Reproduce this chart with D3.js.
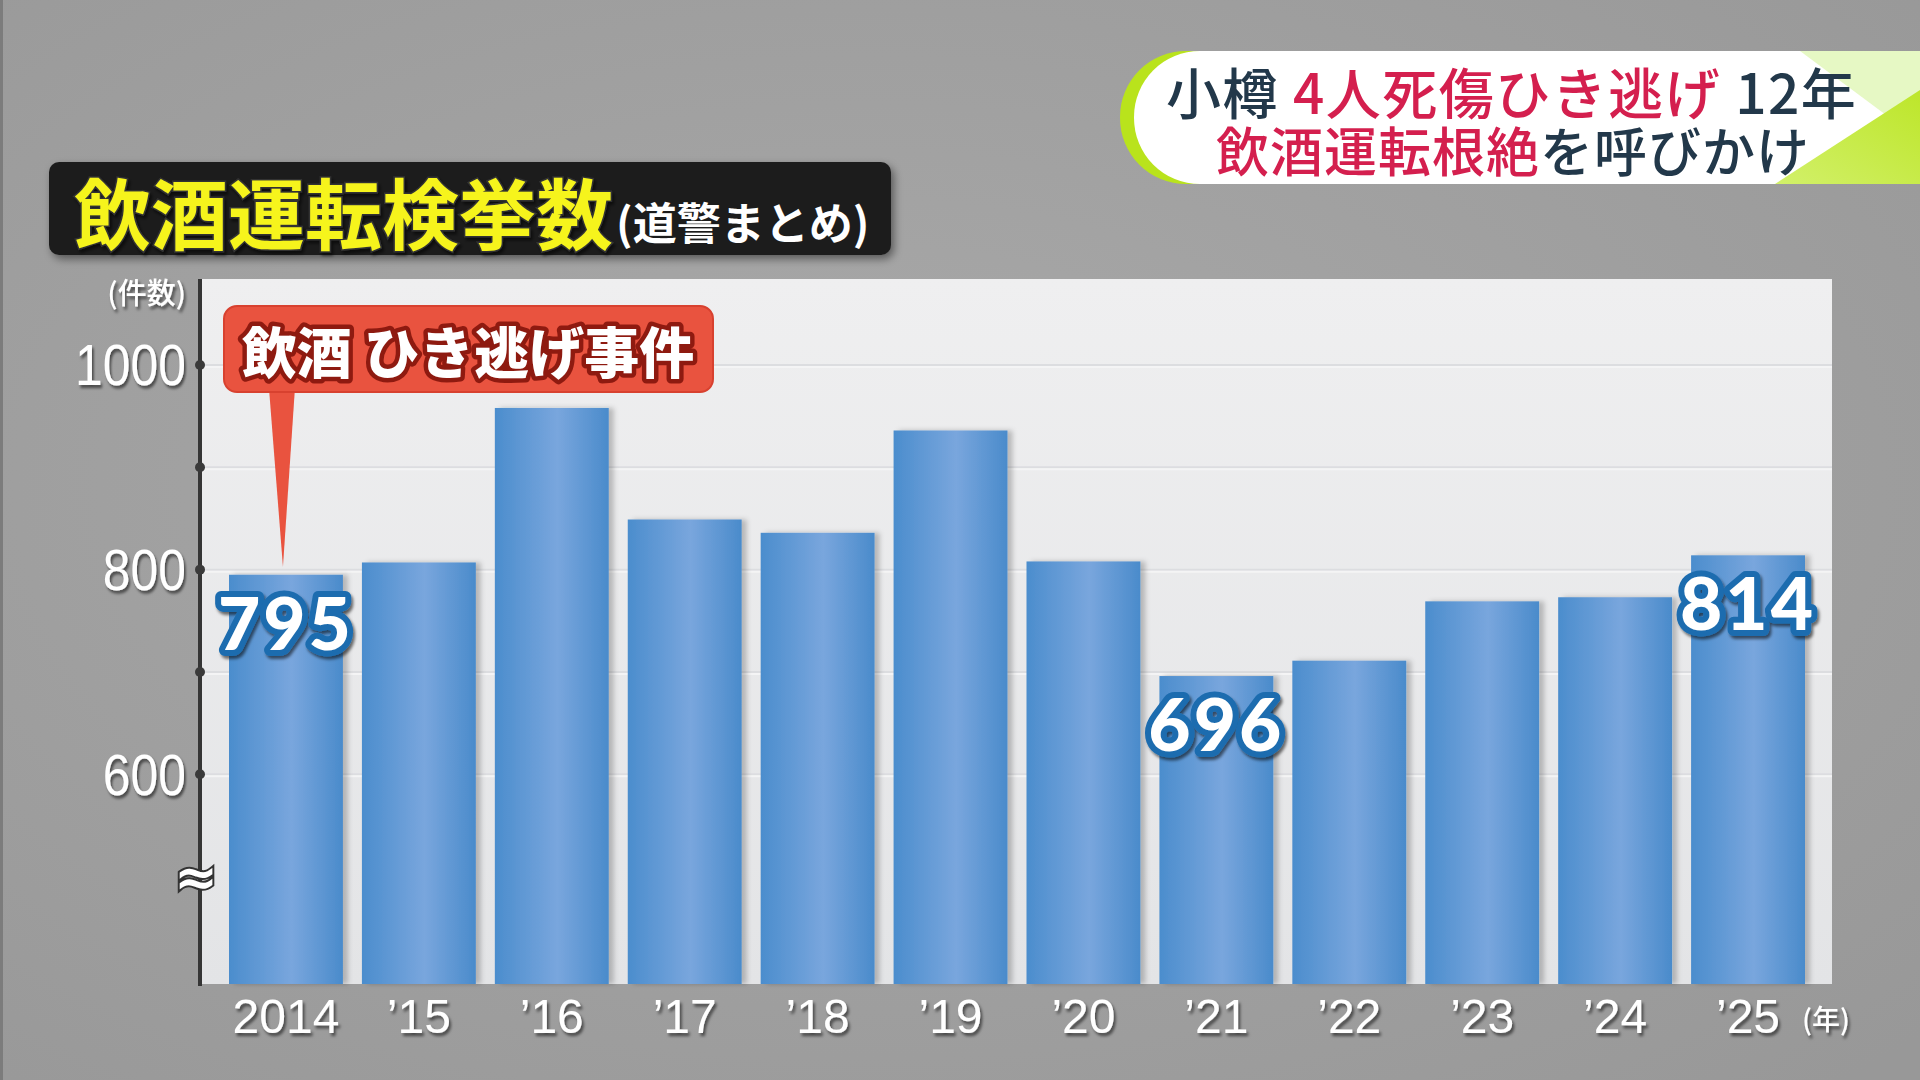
<!DOCTYPE html>
<html lang="ja">
<head>
<meta charset="utf-8">
<title>飲酒運転検挙数</title>
<script src="https://cdn.jsdelivr.net/npm/d3@7"></script>
<style>
  html, body { margin: 0; padding: 0; background: #a0a0a0; overflow: hidden; }
  svg { display: block; }
</style>
</head>
<body>
<div id="chart"></div>
<script>
// chart values
const years = ["2014", "\u201915", "\u201916", "\u201917", "\u201918", "\u201919",
               "\u201920", "\u201921", "\u201922", "\u201923", "\u201924", "\u201925"];
const counts = [795, 807, 958, 849, 836, 936, 808, 696, 711, 769, 773, 814];
const labelledYears = ["2014", "\u201921", "\u201925"];
const yTickValues = [600, 800, 1000];
const yDotValues = [600, 700, 800, 900, 1000];
const breakValue = 500;
const calloutYear = "2014";
const calloutText = "飲酒 ひき逃げ事件";
const titleText = "飲酒運転検挙数";
const subtitleText = "(道警まとめ)";
const yUnit = "(件数)";
const xUnit = "(年)";

const W = 1920, H = 1080;
const plot = { left: 200, right: 1832, top: 279, bottom: 984 };

const svg = d3.select("#chart").append("svg")
    .attr("width", W)
    .attr("height", H);
const defs = svg.append("defs");

// gradients
const bgGrad = defs.append("radialGradient").attr("id", "bgGrad")
    .attr("cx", "45%").attr("cy", "45%").attr("r", "75%");
bgGrad.append("stop").attr("offset", "0%").attr("stop-color", "#a9a9a9");
bgGrad.append("stop").attr("offset", "100%").attr("stop-color", "#989898");

const plotGrad = defs.append("linearGradient").attr("id", "plotGrad")
    .attr("x1", "0%").attr("y1", "0%").attr("x2", "0%").attr("y2", "100%");
plotGrad.append("stop").attr("offset", "0%").attr("stop-color", "#efeff0");
plotGrad.append("stop").attr("offset", "100%").attr("stop-color", "#e3e4e6");

const barGrad = defs.append("linearGradient").attr("id", "barGrad")
    .attr("x1", "0%").attr("y1", "0%").attr("x2", "100%").attr("y2", "0%");
barGrad.append("stop").attr("offset", "0%").attr("stop-color", "#4b8dcd");
barGrad.append("stop").attr("offset", "55%").attr("stop-color", "#79a6dd");
barGrad.append("stop").attr("offset", "100%").attr("stop-color", "#4a8bcb");

const limeGrad = defs.append("linearGradient").attr("id", "limeGrad")
    .attr("x1", "0%").attr("y1", "100%").attr("x2", "100%").attr("y2", "0%");
limeGrad.append("stop").attr("offset", "0%").attr("stop-color", "#d2f06a");
limeGrad.append("stop").attr("offset", "100%").attr("stop-color", "#bde62a");

// shadows
function addShadow(id, dx, dy, blur, opacity) {
    defs.append("filter").attr("id", id)
        .attr("x", "-20%").attr("y", "-20%").attr("width", "140%").attr("height", "140%")
        .append("feDropShadow")
        .attr("dx", dx).attr("dy", dy)
        .attr("stdDeviation", blur)
        .attr("flood-color", "#000")
        .attr("flood-opacity", opacity);
}
addShadow("textShadow", 2, 3, 1.5, 0.55);
addShadow("boxShadow", 3, 4, 4, 0.45);
addShadow("barShadow", 5, 0, 2.5, 0.22);

// background
svg.append("rect").attr("width", W).attr("height", H).attr("fill", "url(#bgGrad)");
svg.append("rect").attr("width", 3).attr("height", H).attr("fill", "#7c7c7c");

// scales
const x = d3.scaleBand()
    .domain(years)
    .range([219.5, 1814.5])
    .paddingInner(0.143)
    .paddingOuter(0.0715);

const y = d3.scaleLinear()
    .domain([395, 1000])
    .range([plot.bottom, 365]);

// plot area
svg.append("rect")
    .attr("x", plot.left + 2)
    .attr("y", plot.top)
    .attr("width", plot.right - plot.left - 2)
    .attr("height", plot.bottom - plot.top)
    .attr("fill", "url(#plotGrad)");

// faint grid lines
const grid = svg.append("g");
grid.selectAll("line.dark")
    .data(yDotValues)
    .join("line")
    .attr("x1", plot.left + 2).attr("x2", plot.right)
    .attr("y1", d => y(d)).attr("y2", d => y(d))
    .attr("stroke", "#dcdde0").attr("stroke-width", 2);
grid.selectAll("line.light")
    .data(yDotValues)
    .join("line")
    .attr("x1", plot.left + 2).attr("x2", plot.right)
    .attr("y1", d => y(d) + 2).attr("y2", d => y(d) + 2)
    .attr("stroke", "#f4f4f5").attr("stroke-width", 2);

// bars
svg.append("g")
    .selectAll("rect")
    .data(counts)
    .join("rect")
    .attr("x", (d, i) => x(years[i]))
    .attr("y", d => y(d))
    .attr("width", x.bandwidth())
    .attr("height", d => y(395) - y(d))
    .attr("fill", "url(#barGrad)")
    .attr("filter", "url(#barShadow)");

// axes
svg.append("line")
    .attr("x1", plot.left).attr("x2", plot.left)
    .attr("y1", plot.top).attr("y2", plot.bottom + 2)
    .attr("stroke", "#353535").attr("stroke-width", 4);

svg.append("line")
    .attr("x1", plot.left - 2).attr("x2", plot.right)
    .attr("y1", plot.bottom + 1).attr("y2", plot.bottom + 1)
    .attr("stroke", "#333").attr("stroke-width", 6)
    .attr("filter", "url(#textShadow)");

svg.append("g")
    .selectAll("circle")
    .data(yDotValues)
    .join("circle")
    .attr("cx", plot.left)
    .attr("cy", d => y(d))
    .attr("r", 5)
    .attr("fill", "#3a3a3a");

// y labels (condensed a little, like the broadcast font)
svg.append("g")
    .selectAll("text")
    .data(yTickValues)
    .join("text")
    .attr("transform", d => `translate(186,${y(d)}) scale(0.86,1)`)
    .attr("text-anchor", "end")
    .attr("dominant-baseline", "central")
    .attr("font-family", "'Liberation Sans', sans-serif")
    .attr("font-size", 58)
    .attr("fill", "#fff")
    .attr("filter", "url(#textShadow)")
    .text(d => d);

svg.append("text")
    .attr("x", 186).attr("y", 291)
    .attr("text-anchor", "end")
    .attr("dominant-baseline", "central")
    .attr("font-family", "'Noto Sans CJK JP', sans-serif")
    .attr("font-weight", 500)
    .attr("font-size", 29)
    .attr("fill", "#fff")
    .attr("filter", "url(#textShadow)")
    .text(yUnit);

// axis break mark
svg.append("text")
    .attr("x", plot.left - 4).attr("y", y(breakValue))
    .attr("text-anchor", "middle")
    .attr("dominant-baseline", "central")
    .attr("font-family", "'DejaVu Sans', sans-serif")
    .attr("font-weight", 700)
    .attr("font-size", 52)
    .attr("fill", "#fff")
    .attr("stroke", "#333").attr("stroke-width", 4)
    .attr("paint-order", "stroke")
    .text("\u2248");

// x labels
svg.append("g")
    .selectAll("text")
    .data(years)
    .join("text")
    .attr("x", d => x(d) + x.bandwidth() / 2)
    .attr("y", 1016)
    .attr("text-anchor", "middle")
    .attr("dominant-baseline", "central")
    .attr("font-family", "'Liberation Sans', sans-serif")
    .attr("font-size", 48)
    .attr("fill", "#fff")
    .attr("filter", "url(#textShadow)")
    .text(d => d);

svg.append("text")
    .attr("x", 1802).attr("y", 1018)
    .attr("dominant-baseline", "central")
    .attr("font-family", "'Noto Sans CJK JP', sans-serif")
    .attr("font-weight", 500)
    .attr("font-size", 28)
    .attr("fill", "#fff")
    .attr("filter", "url(#textShadow)")
    .text(xUnit);

// value labels: pale halo, blue outline, white fill
const valueLabels = svg.append("g")
    .selectAll("text")
    .data(labelledYears)
    .join("text")
    .attr("x", d => x(d) + x.bandwidth() / 2)
    .attr("y", d => y(counts[years.indexOf(d)]) + 75)
    .attr("text-anchor", "middle")
    .attr("font-family", "Lato, 'Open Sans', sans-serif")
    .attr("font-weight", 900)
    .attr("font-size", 73)
    .attr("letter-spacing", 3)
    .attr("fill", "#fff")
    .attr("stroke", "#1c6caf").attr("stroke-width", 12)
    .attr("stroke-linejoin", "round")
    .attr("paint-order", "stroke")
    .attr("filter", "url(#textShadow)")
    .text(d => counts[years.indexOf(d)]);

// callout
const tipX = x(calloutYear) + x.bandwidth() / 2 - 3;
const tipY = y(counts[years.indexOf(calloutYear)]) - 8;
const callout = svg.append("g");
callout.append("path")
    .attr("d", `M${tipX - 14},388 L${tipX},${tipY} L${tipX + 12},388 Z`)
    .attr("fill", "#e9533f");
callout.append("rect")
    .attr("x", 224).attr("y", 306)
    .attr("width", 489).attr("height", 86)
    .attr("rx", 13)
    .attr("fill", "#e9533f")
    .attr("stroke", "#d8412f").attr("stroke-width", 2);
callout.append("text")
    .attr("x", 468).attr("y", 349)
    .attr("text-anchor", "middle")
    .attr("dominant-baseline", "central")
    .attr("font-family", "'Noto Sans CJK JP', sans-serif")
    .attr("font-weight", 900)
    .attr("font-size", 55)
    .attr("fill", "#fff")
    .attr("stroke", "#8e1a10").attr("stroke-width", 9)
    .attr("stroke-linejoin", "round")
    .attr("paint-order", "stroke")
    .text(calloutText);

// title box
svg.append("rect")
    .attr("x", 49).attr("y", 162)
    .attr("width", 842).attr("height", 93)
    .attr("rx", 10)
    .attr("fill", "#1c1c1c")
    .attr("filter", "url(#boxShadow)");
svg.append("text")
    .attr("x", 74).attr("y", 210)
    .attr("dominant-baseline", "central")
    .attr("font-family", "'Noto Sans CJK JP', sans-serif")
    .attr("font-weight", 700)
    .attr("font-size", 77)
    .attr("fill", "#f6f41f")
    .attr("stroke", "#333").attr("stroke-width", 3)
    .attr("paint-order", "stroke")
    .attr("filter", "url(#textShadow)")
    .text(titleText);
svg.append("text")
    .attr("x", 616).attr("y", 221)
    .attr("dominant-baseline", "central")
    .attr("font-family", "'Noto Sans CJK JP', sans-serif")
    .attr("font-weight", 700)
    .attr("font-size", 44)
    .attr("fill", "#fff")
    .text(subtitleText);

// top-right banner
const banner = svg.append("g");
banner.append("rect")
    .attr("x", 1120).attr("y", 51)
    .attr("width", 900).attr("height", 133)
    .attr("rx", 66)
    .attr("fill", "#b9e31c");
banner.append("rect")
    .attr("x", 1134).attr("y", 51)
    .attr("width", 900).attr("height", 133)
    .attr("rx", 66)
    .attr("fill", "#fff");
banner.append("path")
    .attr("d", "M1800,51 L1920,51 L1920,140 L1882,112 Z")
    .attr("fill", "#e6f8c4");
banner.append("path")
    .attr("d", "M1775,184 L1920,90 L1920,184 Z")
    .attr("fill", "url(#limeGrad)");

const line1 = banner.append("text")
    .attr("x", 1166).attr("y", 90)
    .attr("dominant-baseline", "central")
    .attr("font-family", "'Noto Sans CJK JP', sans-serif")
    .attr("font-weight", 500)
    .attr("font-size", 55)
    .attr("letter-spacing", 1.5);
line1.append("tspan").attr("fill", "#22384a").text("小樽 ");
line1.append("tspan").attr("fill", "#d41f4e").text("4人死傷ひき逃げ");
line1.append("tspan").attr("fill", "#22384a").text(" 12年");

const line2 = banner.append("text")
    .attr("x", 1216).attr("y", 149)
    .attr("dominant-baseline", "central")
    .attr("font-family", "'Noto Sans CJK JP', sans-serif")
    .attr("font-weight", 500)
    .attr("font-size", 53)
    .attr("letter-spacing", 1);
line2.append("tspan").attr("fill", "#d41f4e").text("飲酒運転根絶");
line2.append("tspan").attr("fill", "#22384a").text("を呼びかけ");
</script>
</body>
</html>
